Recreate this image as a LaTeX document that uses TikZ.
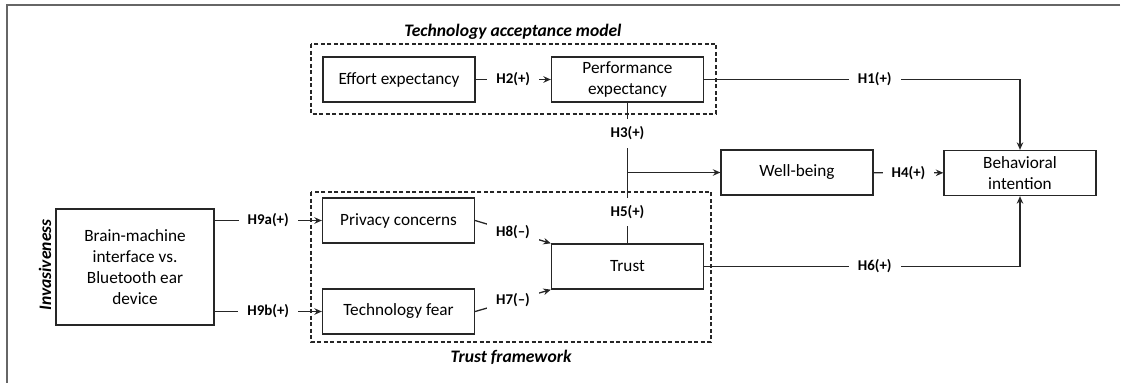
\documentclass[tikz,border=0pt]{standalone}
\usepackage{fontspec}
\setmainfont{Carlito}
\usetikzlibrary{arrows.meta}

\tikzset{
	construct/.style={draw=black!85, line width=0.26mm, minimum width=30.4mm,
		minimum height=9mm, align=center, inner sep=1pt,
		font=\fontsize{9.8}{12}\selectfont},
	hyp/.style={fill=white, inner xsep=1.8mm, inner ysep=1.5mm,
		font=\fontsize{8.5}{10}\selectfont\bfseries},
	link/.style={draw=black!85, line width=0.26mm},
	arr/.style={link, -{Stealth[length=1.5mm,width=1.3mm]}},
	group/.style={draw=black!85, line width=0.22mm, dash pattern=on 0.8mm off 0.5mm},
	grouptitle/.style={font=\fontsize{10}{12}\selectfont\bfseries\itshape},
}

\begin{document}
\begin{tikzpicture}[x=0.2mm, y=-0.2mm]
	\useasboundingbox (0,0) rectangle (1125,383);
	% Rahmen oben und links
	\draw[black!60, line width=0.4mm] (1120,5) -- (7,5) -- (7,383);
	% gestrichelte Gruppen
	\draw[group] (311,44) rectangle (716,114);
	\draw[group] (311,192) rectangle (711,342);
	\node[grouptitle] (tamtitle) at (513,32) {Technology acceptance model};
	\node[grouptitle] (tftitle) at (511,357) {Trust framework};
	% Konstrukte
	\node[construct] (ee) at (399,79.5) {Effort expectancy};
	\node[construct] (pe) at (627.5,79.5) {Performance\\expectancy};
	\node[construct] (wb) at (797,172.5) {Well-being};
	\node[construct] (bi) at (1020,173) {Behavioral\\intention};
	\node[construct] (pc) at (398.5,220.5) {Privacy concerns};
	\node[construct] (tf) at (398.5,311.5) {Technology fear};
	\node[construct] (tr) at (627.5,266.5) {Trust};
	\node[construct, minimum width=31.6mm, minimum height=23.2mm] (bm) at (135,267)
		{Brain-machine\\interface vs.\\Bluetooth ear\\device};
	\node[grouptitle, rotate=90] (inv) at (45,265) {Invasiveness};
	\coordinate (join) at (pe.south |- wb.west);
	% Hypothesen
	\draw[arr] (ee) -- node[hyp] {H2(+)} (pe);
	\draw[arr] (pe.east) -| node[hyp, pos=0.27] {H1(+)} (bi.north);
	\draw[link] (pe.south) -- node[hyp, pos=0.44] {H3(+)} (join);
	\draw[link] (tr.north) -- node[hyp, pos=0.44] {H5(+)} (join);
	\draw[arr] (join) -- (wb.west);
	\draw[arr] (wb) -- node[hyp] {H4(+)} (bi);
	\draw[arr] (tr.east) -| node[hyp, pos=0.27] {H6(+)} (bi.south);
	\draw[arr] (pc.east) -- node[hyp] {H8(–)} (tr.north west);
	\draw[arr] (tf.east) -- node[hyp] {H7(–)} (tr.south west);
	\draw[arr] (bm.east |- pc.west) -- node[hyp] {H9a(+)} (pc.west);
	\draw[arr] (bm.east |- tf.west) -- node[hyp] {H9b(+)} (tf.west);
\end{tikzpicture}
\end{document}
